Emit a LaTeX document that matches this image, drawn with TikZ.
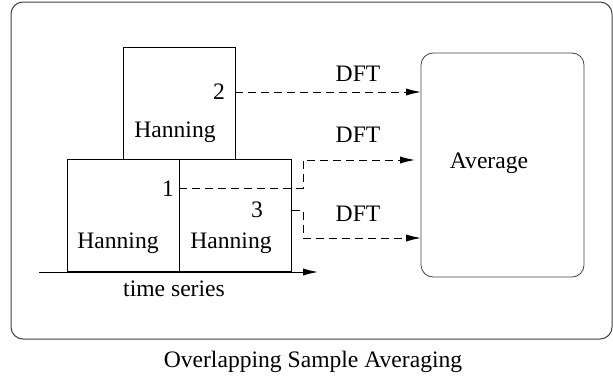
\documentclass[tikz,border=0pt]{standalone}
\usepackage{fontspec}
\setmainfont{Liberation Serif}
\usetikzlibrary{calc,positioning,arrows.meta}

\begin{document}
\begin{tikzpicture}[
    x=0.5pt, y=-0.5pt,
    every node/.style={font=\fontsize{11.8}{13}\selectfont},
    window/.style={rectangle, draw, minimum width=56pt, minimum height=56pt, inner sep=0pt, outer sep=0pt},
    avgbox/.style={rectangle, draw=black!75, rounded corners=6pt, minimum width=81.5pt, minimum height=112pt, inner sep=0pt, outer sep=0pt},
    arrow/.style={-{Latex[length=7.5pt,width=3.6pt]}, line width=0.5pt},
    dft/.style={arrow, dash pattern=on 4pt off 2.5pt}
]
    \useasboundingbox (0,0) rectangle (613,380);
    \draw[black!75, line width=0.5pt, rounded corners=6pt] (11,2) rectangle (612,339);

    % windows
    \node[window] (win2) at (179,103) {};
    \node[window] (win1) at (123,215.5) {};
    \node[window] (win3) at (235.5,215.5) {};
    \node (han2) at (175,132) {Hanning};
    \node (han1) at (118,243) {Hanning};
    \node (han3) at (231,243) {Hanning};
    \node (lab2) at (219,92) {2};
    \node (lab1) at (168,189) {1};
    \node (lab3) at (257,210) {3};

    \node[avgbox] (avg) at (502.5,165) {};
    \node (avgtext) at (489,163) {Average};

    % time axis
    \coordinate (t0) at (39,272);
    \coordinate (t1) at (318,272);
    \draw[arrow] (t0) -- (t1);
    \node (ts) at (174,289) {time series};

    % DFT paths
    \coordinate (bend1) at (303,188);
    \coordinate (tip1) at (415,160);
    \coordinate (bend3) at (303,210);
    \coordinate (tip3) at (421,238);
    \draw[dft] (win2.east |- lab2) -- (avg.west |- lab2);
    \draw[dft] (win1.east |- bend1) -- (bend1) |- (tip1);
    \draw[dft] (win3.east |- lab3) -- (bend3) |- (tip3);
    \node (dft2) at (358,74) {DFT};
    \node (dft1) at (358,135) {DFT};
    \node (dft3) at (358,214) {DFT};

    \node (caption) at (313,362) {Overlapping Sample Averaging};
\end{tikzpicture}
\end{document}
